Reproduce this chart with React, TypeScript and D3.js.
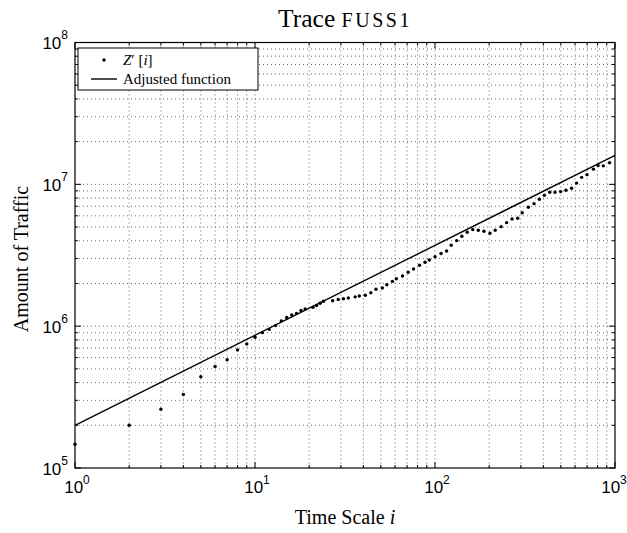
import React from "react";
import * as d3 from "d3";

const scaleI = [1, 2, 3, 4, 5, 6, 7, 8, 9, 10, 11, 12, 13, 14, 15, 16, 17, 18, 19, 21, 22, 23, 24, 27, 29, 31, 33, 36, 38, 41, 44, 47, 51, 54, 58, 61, 66, 71, 76, 82, 88, 93, 100, 108, 116, 123, 132, 141, 151, 162, 174, 187, 202, 216, 233, 250, 268, 288, 305, 330, 355, 380, 405, 434, 464, 499, 534, 574, 612, 653, 699, 759, 805, 861, 933];
const traffic = [1.47e5, 2.0e5, 2.6e5, 3.3e5, 4.4e5, 5.2e5, 5.8e5, 6.8e5, 7.5e5, 8.35e5, 9.0e5, 9.5e5, 1.01e6, 1.09e6, 1.15e6, 1.2e6, 1.23e6, 1.29e6, 1.32e6, 1.36e6, 1.4e6, 1.45e6, 1.5e6, 1.51e6, 1.54e6, 1.56e6, 1.58e6, 1.61e6, 1.63e6, 1.65e6, 1.72e6, 1.82e6, 1.86e6, 1.96e6, 2.07e6, 2.16e6, 2.26e6, 2.4e6, 2.53e6, 2.69e6, 2.82e6, 2.93e6, 3.09e6, 3.25e6, 3.39e6, 3.72e6, 4.01e6, 4.3e6, 4.59e6, 4.8e6, 4.75e6, 4.67e6, 4.52e6, 4.75e6, 5.03e6, 5.37e6, 5.7e6, 5.77e6, 6.31e6, 6.89e6, 7.31e6, 7.85e6, 8.38e6, 8.8e6, 8.8e6, 8.89e6, 9.08e6, 9.38e6, 1.02e7, 1.12e7, 1.17e7, 1.28e7, 1.36e7, 1.35e7, 1.42e7];

const fitI = [1, 1000];
const fitTraffic = [2.0e5, 1.6e7];

const xMajor = [1, 10, 100, 1000];
const xExp = ["0", "1", "2", "3"];
const yMajor = [1e5, 1e6, 1e7, 1e8];
const yExp = ["5", "6", "7", "8"];

const W = 627, H = 533;
const L = 75, R = 615, T = 42.5, B = 468;

function minors(lo: number, hi: number): number[] {
  const out: number[] = [];
  for (let d = lo; d < hi; d *= 10) {
    for (let k = 2; k <= 9; k++) out.push(d * k);
  }
  return out;
}

export default function App() {
  const x = d3.scaleLog().domain([1, 1000]).range([L, R]);
  const y = d3.scaleLog().domain([1e5, 1e8]).range([B, T]);
  const xMinor = minors(1, 1000);
  const yMinor = minors(1e5, 1e8);
  const xGrid = [...xMajor.slice(1, -1), ...xMinor];
  const yGrid = [...yMajor.slice(1, -1), ...yMinor];
  const line = d3.line<number>().x((d, i) => x(fitI[i])).y((d) => y(d));
  const gridStyle = { stroke: "#6a6a6a", strokeWidth: 1, strokeDasharray: "1 3" };
  const sans = "'Liberation Sans', Arial, sans-serif";
  const serif = "'Liberation Serif', 'Times New Roman', serif";

  return (
    <svg width={W} height={H} style={{ position: "absolute", left: 0, top: 0, background: "#fff" }}>
      <rect x={0} y={0} width={W} height={H} fill="#fff" />
      {xGrid.map((v, i) => (
        <line key={"gx" + i} x1={x(v)} x2={x(v)} y1={T} y2={B} {...gridStyle} />
      ))}
      {yGrid.map((v, i) => (
        <line key={"gy" + i} x1={L} x2={R} y1={y(v)} y2={y(v)} {...gridStyle} />
      ))}
      {xMajor.map((v, i) => (
        <g key={"xt" + i}>
          <line x1={x(v)} x2={x(v)} y1={B} y2={B - 6} stroke="#000" />
          <line x1={x(v)} x2={x(v)} y1={T} y2={T + 6} stroke="#000" />
        </g>
      ))}
      {xMinor.map((v, i) => (
        <g key={"xm" + i}>
          <line x1={x(v)} x2={x(v)} y1={B} y2={B - 3} stroke="#000" />
          <line x1={x(v)} x2={x(v)} y1={T} y2={T + 3} stroke="#000" />
        </g>
      ))}
      {yMajor.map((v, i) => (
        <g key={"yt" + i}>
          <line x1={L} x2={L + 6} y1={y(v)} y2={y(v)} stroke="#000" />
          <line x1={R} x2={R - 6} y1={y(v)} y2={y(v)} stroke="#000" />
        </g>
      ))}
      {yMinor.map((v, i) => (
        <g key={"ym" + i}>
          <line x1={L} x2={L + 3} y1={y(v)} y2={y(v)} stroke="#000" />
          <line x1={R} x2={R - 3} y1={y(v)} y2={y(v)} stroke="#000" />
        </g>
      ))}
      <path d={line(fitTraffic) || ""} fill="none" stroke="#000" strokeWidth={1.4} />
      {scaleI.map((v, i) => (
        <circle key={"d" + i} cx={x(v)} cy={y(traffic[i])} r={1.7} fill="#000" />
      ))}
      <rect x={L} y={T} width={R - L} height={B - T} fill="none" stroke="#000" strokeWidth={1.2} />
      {/* legend */}
      <rect x={78} y={48} width={180} height={42} fill="#fff" stroke="#000" strokeWidth={1} />
      <circle cx={104} cy={60} r={1.7} fill="#000" />
      <text x={123} y={65} fontFamily={serif} fontSize={15}>
        <tspan fontStyle="italic">Z</tspan>
        <tspan>{"′ ["}</tspan>
        <tspan fontStyle="italic">i</tspan>
        <tspan>]</tspan>
      </text>
      <line x1={91} x2={117} y1={79} y2={79} stroke="#000" strokeWidth={1.4} />
      <text x={123} y={84} fontFamily={serif} fontSize={15}>Adjusted function</text>
      {xMajor.map((v, i) => (
        <text key={"xl" + i} x={x(v) + (i === 3 ? -1 : 2)} y={493} textAnchor="middle" fontFamily={sans} fontSize={17}>
          10<tspan fontSize={12} dy={-9}>{xExp[i]}</tspan>
        </text>
      ))}
      {yMajor.map((v, i) => (
        <text key={"yl" + i} x={68} y={y(v) + 6.5} textAnchor="end" fontFamily={sans} fontSize={17}>
          10<tspan fontSize={12} dy={-10}>{yExp[i]}</tspan>
        </text>
      ))}
      <text x={345} y={27} textAnchor="middle" fontFamily={serif} fontSize={25.5}>
        Trace <tspan fontSize={20} letterSpacing={2.5}>FUSS1</tspan>
      </text>
      <text x={345} y={524} textAnchor="middle" fontFamily={serif} fontSize={20}>
        Time Scale <tspan fontStyle="italic">i</tspan>
      </text>
      <text transform="translate(28,259) rotate(-90)" textAnchor="middle" fontFamily={serif} fontSize={20}>
        Amount of Traffic
      </text>
    </svg>
  );
}
